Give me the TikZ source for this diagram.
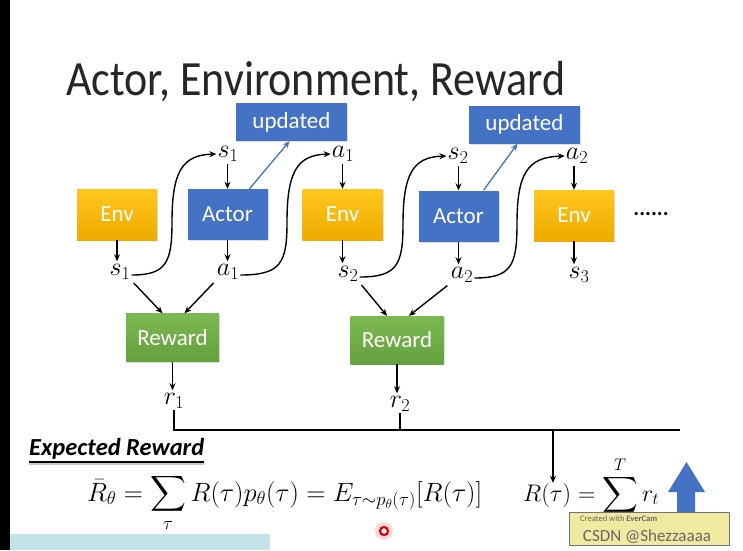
\RequirePackage{fix-cm}
\documentclass[tikz,border=0pt]{standalone}
\usepackage{amsmath}
\usepackage{exscale}
\usepackage{fontspec}
\setmainfont{Carlito}
\usetikzlibrary{arrows.meta,shadows}
\definecolor{envtop}{RGB}{255,199,30}
\definecolor{envbot}{RGB}{238,170,0}
\definecolor{actorblue}{RGB}{68,114,196}
\definecolor{rwtop}{RGB}{124,185,82}
\definecolor{rwbot}{RGB}{100,160,62}
\definecolor{everyellow}{RGB}{240,234,160}
\definecolor{uibar}{RGB}{196,226,234}
\begin{document}
\begin{tikzpicture}[x=1pt,y=-1pt,
  box/.style={minimum width=80pt,minimum height=51pt,inner sep=0pt,text=white,
    font=\fontsize{23}{26}\selectfont,
    drop shadow={opacity=0.25,shadow xshift=1.2pt,shadow yshift=-1.2pt}},
  envbox/.style={box,top color=envtop,bottom color=envbot},
  actbox/.style={box,fill=actorblue},
  updbox/.style={box,fill=actorblue,minimum width=111pt,minimum height=38pt},
  rwbox/.style={box,top color=rwtop,bottom color=rwbot,minimum width=93pt,minimum height=48pt},
  lab/.style={inner sep=1pt,font=\fontsize{26}{30}\selectfont},
  arr/.style={-{Stealth[length=7pt,width=6pt]},line width=1.4pt},
  blarr/.style={-{Stealth[length=7pt,width=6pt]},line width=1.3pt,draw=actorblue,color=actorblue},
  ln/.style={line width=1.4pt},
]
\useasboundingbox (0,0) rectangle (743,550);
\fill[white] (0,0) rectangle (743,550);
\fill[black] (0,0) rectangle (10,550);
\fill[uibar] (10,534) rectangle (270,550);

% title
\node[anchor=base west,inner sep=0pt,font=\fontsize{44}{50}\selectfont,text=black!85] (title) at (66,95)
  {\scalebox{1}[1.12]{Actor, Environment, Reward}};

% boxes
\node[envbox] (env1) at (117,214.5) {Env};
\node[actbox] (act1) at (227.5,214.5) {Actor};
\node[envbox] (env2) at (342.5,214.5) {Env};
\node[actbox] (act2) at (458.5,216) {Actor};
\node[envbox] (env3) at (574,215.5) {Env};
\node[updbox] (upd1) at (291.5,122) {updated};
\node[updbox] (upd2) at (524.5,124.5) {updated};
\node[rwbox] (rw1) at (172.5,337.5) {Reward};
\node[rwbox] (rw2) at (397,340) {Reward};
\node[font=\fontsize{22}{24}\selectfont\bfseries] (dots) at (651,214) {......};

% labels
\node[lab] (s1t) at (228,154) {$s_1$};
\node[lab] (a1t) at (343,154) {$a_1$};
\node[lab] (s2t) at (458,156) {$s_2$};
\node[lab] (a2t) at (577,156) {$a_2$};
\node[lab] (s1b) at (120,272) {$s_1$};
\node[lab] (a1b) at (228,272) {$a_1$};
\node[lab] (s2b) at (348,274) {$s_2$};
\node[lab] (a2b) at (462,275) {$a_2$};
\node[lab] (s3b) at (579,275) {$s_3$};
\node[lab] (r1) at (174,401) {$r_1$};
\node[lab] (r2) at (400,404) {$r_2$};

% vertical arrows
\draw[arr,shorten >=2pt] (env1.south) -- (env1.south |- s1b.north);
\draw[arr,shorten >=2pt] (act1.south) -- (act1.south |- a1b.north);
\draw[arr,shorten >=2pt] (env2.south) -- (env2.south |- s2b.north);
\draw[arr,shorten >=2pt] (act2.south) -- (act2.south |- a2b.north);
\draw[arr,shorten >=2pt] (env3.south) -- (env3.south |- s3b.north);
\draw[arr,shorten <=1pt] (act1.north |- s1t.south) -- (act1.north);
\draw[arr,shorten <=1pt] (env2.north |- a1t.south) -- (env2.north);
\draw[arr,shorten <=1pt] (act2.north |- s2t.south) -- (act2.north);
\draw[arr,shorten <=1pt] (env3.north |- a2t.south) -- (env3.north);

% S-curves
\draw[arr] ([yshift=-3pt]s1b.east) .. controls (166,275) and (172,263) .. (172,222)
  .. controls (172,172) and (182,155) .. (s1t.west);
\draw[arr] ([yshift=-3pt]a1b.east) .. controls (281,275) and (287,263) .. (287,222)
  .. controls (287,172) and (297,155) .. (a1t.west);
\draw[arr] ([yshift=-3pt]s2b.east) .. controls (397,277) and (403,265) .. (403,224)
  .. controls (403,174) and (413,157) .. (s2t.west);
\draw[arr] ([yshift=-3pt]a2b.east) .. controls (511,278) and (517,266) .. (517,224)
  .. controls (517,174) and (527,157) .. (a2t.west);

% updated arrows
\draw[blarr] ([xshift=22pt]act1.north) -- ([xshift=-2pt]upd1.south);
\draw[blarr] ([xshift=25pt]act2.north) -- ([xshift=-7pt]upd2.south);

% reward inputs
\draw[arr,shorten <=3pt] (s1b.south east) -- ([xshift=-10pt]rw1.north);
\draw[arr,shorten <=3pt] (a1b.south west) -- ([xshift=12pt]rw1.north);
\draw[arr,shorten <=3pt] (s2b.south east) -- ([xshift=-10pt]rw2.north);
\draw[arr,shorten <=3pt] (a2b.south west) -- ([xshift=12pt]rw2.north);
\draw[arr,shorten >=2pt] (rw1.south) -- (rw1.south |- r1.north);
\draw[arr,shorten >=2pt] (rw2.south) -- (rw2.south |- r2.north);

% collecting line
\coordinate (hlend) at (680,430);
\coordinate (hj) at (553,430);
\draw[ln] (r1.south) |- (hlend);
\draw[ln] (r2.south) -- (r2.south |- hlend);

% expected reward
\node[anchor=base west,inner sep=0pt,font=\fontsize{24.5}{27}\selectfont\bfseries\itshape] (exp) at (29,455) {Expected Reward};
\draw[gray!45,line width=1.6pt] ([yshift=-9pt]exp.base west) -- ([yshift=-9pt]exp.base east);
\draw[line width=1.3pt] ([yshift=-7pt]exp.base west) -- ([yshift=-7pt]exp.base east);

\node[anchor=base west,inner sep=0pt,font=\fontsize{26.5}{30}\selectfont] (f1) at (87,501)
  {$\displaystyle \bar R_\theta = \sum_\tau R(\tau)p_\theta(\tau) = E_{\tau\sim p_\theta(\tau)}[R(\tau)]$};

\node[anchor=base west,inner sep=0pt,font=\fontsize{24}{30}\selectfont] (Rt) at (523,501) {$R(\tau)$};
\node[anchor=base west,inner sep=0pt,font=\fontsize{24}{30}\selectfont] (f2) at (Rt.base east)
  {$\displaystyle {}= \sum^T r_t$};
\draw[arr] (hj) -- (hj |- Rt.north);

% blue up arrow
\fill[actorblue] (677,515) -- (677,492) -- (668,492) -- (686.5,462) -- (705,492) -- (695,492) -- (695,515) -- cycle;

% watermark
\node[draw=black!55,fill=everyellow,minimum width=160pt,minimum height=33pt,anchor=north west,inner sep=0pt] (ever) at (569,512) {};
\node[anchor=west,inner sep=0pt,font=\fontsize{8.5}{9}\selectfont,text=black!60] (cw) at (580,519) {Created with \textbf{EverCam}};
\node[inner sep=0pt,font=\fontsize{17}{18}\selectfont,text=black!60] (csdn) at (647,537) {CSDN @Shezzaaaa};

% cursor
\fill[red,opacity=0.15] (384,531) circle (9pt);
\draw[red!85!black,line width=2.2pt,fill=white] (384,531) circle (4pt);
\end{tikzpicture}
\end{document}
